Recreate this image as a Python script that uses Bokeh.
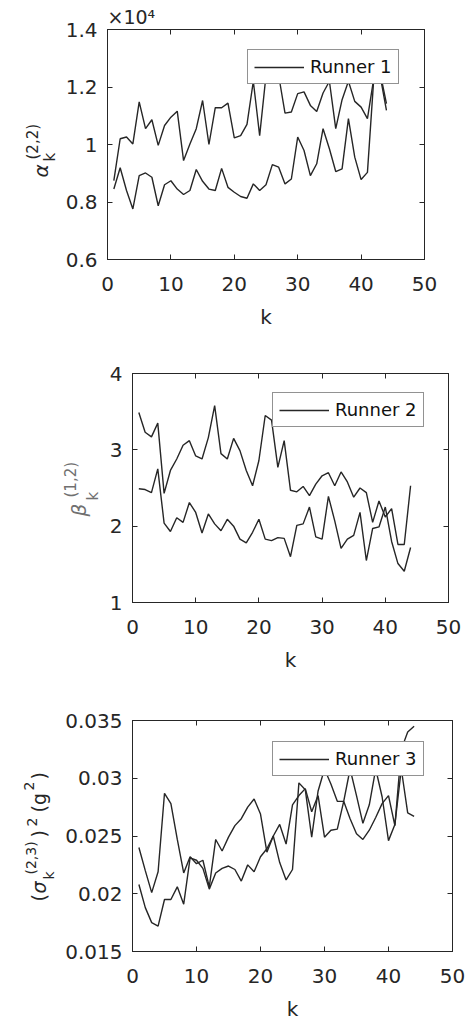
import math
from bokeh.plotting import figure
from bokeh.models import (Range1d, LinearAxis, FixedTicker, CustomJSTickFormatter,
                          Label, Legend, LegendItem, Title)
from bokeh.layouts import row
from bokeh.embed import file_html
from bokeh.resources import INLINE

# ---------------- data ----------------
k = list(range(1, 45))

alpha_a = [0.874, 1.020, 1.026, 1.002, 1.148, 1.055, 1.086, 0.997, 1.066, 1.095,
           1.116, 0.944, 1.002, 1.055, 1.153, 1.000, 1.128, 1.128, 1.144, 1.023,
           1.031, 1.070, 1.220, 1.031, 1.240, 1.260, 1.240, 1.109, 1.113, 1.177,
           1.183, 1.136, 1.115, 1.179, 1.220, 1.055, 1.156, 1.220, 1.150, 1.130,
           1.090, 1.230, 1.240, 1.119]
alpha_b = [0.845, 0.919, 0.840, 0.776, 0.892, 0.901, 0.886, 0.787, 0.860, 0.874,
           0.845, 0.826, 0.840, 0.913, 0.872, 0.845, 0.840, 0.917, 0.851, 0.834,
           0.819, 0.813, 0.863, 0.840, 0.860, 0.930, 0.921, 0.863, 0.880, 1.026,
           0.979, 0.892, 0.933, 1.055, 0.985, 0.906, 0.915, 1.090, 0.956, 0.878,
           0.903, 1.230, 1.250, 1.142]

beta_a = [3.49, 3.23, 3.17, 3.35, 2.43, 2.73, 2.88, 3.06, 3.12, 2.92,
          2.88, 3.16, 3.58, 2.95, 2.88, 3.15, 2.99, 2.73, 2.53, 2.86,
          3.45, 3.39, 2.77, 3.12, 2.47, 2.45, 2.52, 2.40, 2.55, 2.66,
          2.70, 2.53, 2.71, 2.58, 2.38, 2.50, 2.44, 2.05, 2.33, 2.12,
          2.23, 1.76, 1.76, 2.53]
beta_b = [2.49, 2.48, 2.44, 2.75, 2.04, 1.93, 2.11, 2.05, 2.31, 2.18,
          1.91, 2.16, 2.03, 1.94, 2.09, 2.00, 1.83, 1.78, 1.92, 2.09,
          1.83, 1.81, 1.85, 1.84, 1.60, 2.01, 2.03, 2.25, 1.86, 1.83,
          2.39, 2.07, 1.71, 1.83, 1.88, 2.18, 1.55, 1.97, 1.99, 2.25,
          1.80, 1.51, 1.41, 1.72]

sigma_a = [0.0240, 0.0220, 0.0201, 0.0219, 0.0287, 0.0278, 0.0247, 0.0218, 0.0232, 0.0226,
           0.0229, 0.0206, 0.0247, 0.0237, 0.0249, 0.0259, 0.0265, 0.0275, 0.0282, 0.0269,
           0.0236, 0.0250, 0.0260, 0.0243, 0.0277, 0.0285, 0.0291, 0.0271, 0.0285, 0.0249,
           0.0255, 0.0256, 0.0280, 0.0265, 0.0252, 0.0247, 0.0255, 0.0266, 0.0278, 0.0285,
           0.0259, 0.0325, 0.0340, 0.0345]
sigma_b = [0.0208, 0.0188, 0.0175, 0.0172, 0.0195, 0.0195, 0.0206, 0.0191, 0.0231, 0.0229,
           0.0222, 0.0204, 0.0218, 0.0222, 0.0224, 0.0221, 0.0211, 0.0225, 0.0219, 0.0232,
           0.0239, 0.0250, 0.0227, 0.0212, 0.0221, 0.0296, 0.0290, 0.0249, 0.0289, 0.0308,
           0.0295, 0.0280, 0.0280, 0.0308, 0.0285, 0.0261, 0.0277, 0.0308, 0.0284, 0.0246,
           0.0260, 0.0308, 0.0270, 0.0267]

x_ticks = [0, 10, 20, 30, 40, 50]
alpha_ticks = [0.6, 0.8, 1.0, 1.2, 1.4]
beta_ticks = [1, 2, 3, 4]
sigma_ticks = [0.015, 0.02, 0.025, 0.03, 0.035]
legend_labels = ["Runner 1", "Runner 2", "Runner 3"]
x_label = "k"
alpha_scale = "×10⁴"

# ---------------- style ----------------
AX = "#262626"
LINE = "#262626"
FONT = "DejaVu Sans"
FMT = CustomJSTickFormatter(code="return String(Number(tick.toFixed(4)));")
BLANK = CustomJSTickFormatter(code="return '';")


def style_axis(ax, ticks, labels=True, standoff=10):
    ax.ticker = FixedTicker(ticks=ticks)
    ax.axis_line_color = AX
    ax.major_tick_line_color = AX
    ax.minor_tick_line_color = None
    ax.major_tick_in = 5
    ax.major_tick_out = 0
    ax.major_label_text_font = FONT
    ax.major_label_text_font_size = "20px"
    ax.major_label_text_color = AX
    ax.major_label_standoff = standoff
    if not labels:
        ax.formatter = BLANK
        ax.major_label_text_font_size = "1px"
        ax.major_label_standoff = 0
    else:
        ax.formatter = FMT


def make_panel(ya, yb, yr, yticks, legend_label, left, right, fw, top, bottom, fh):
    p = figure(frame_width=fw, frame_height=fh,
               min_border_left=left, min_border_right=right,
               min_border_top=top, min_border_bottom=bottom,
               x_range=Range1d(0, 50), y_range=Range1d(*yr),
               output_backend="svg", toolbar_location=None,
               background_fill_color="white", border_fill_color="white")
    p.grid.visible = False
    p.outline_line_color = AX
    style_axis(p.xaxis[0], x_ticks, standoff=17)
    style_axis(p.yaxis[0], yticks, standoff=10)
    p.xaxis[0].axis_label = x_label
    p.xaxis[0].axis_label_text_font = FONT
    p.xaxis[0].axis_label_text_font_size = "20px"
    p.xaxis[0].axis_label_text_font_style = "normal"
    p.xaxis[0].axis_label_text_color = AX
    p.xaxis[0].axis_label_standoff = 11
    top_ax = LinearAxis()
    style_axis(top_ax, x_ticks, labels=False)
    p.add_layout(top_ax, "above")
    right_ax = LinearAxis()
    style_axis(right_ax, yticks, labels=False)
    p.add_layout(right_ax, "right")

    r1 = p.line(k, ya, line_color=LINE, line_width=1.4)
    p.line(k, yb, line_color=LINE, line_width=1.4)

    leg = Legend(items=[LegendItem(label=legend_label, renderers=[r1])],
                 location=(140, 175), margin=0, padding=6, spacing=0,
                 glyph_width=50, glyph_height=20, label_height=20,
                 label_standoff=6,
                 label_text_font=FONT, label_text_font_size="18px",
                 label_text_color="#111111",
                 border_line_color=AX, border_line_width=1,
                 background_fill_color="white", background_fill_alpha=1.0)
    p.add_layout(leg)
    return p


def label_fig(width, fh, top, bottom, frame_top, pieces, color):
    """Narrow figure holding the rotated y-axis title pieces.
    pieces: (text, x_page, y_page_start, size, italic)"""
    lf = figure(frame_width=width, frame_height=fh,
                min_border_left=0, min_border_right=0,
                min_border_top=top, min_border_bottom=bottom,
                x_range=Range1d(0, width), y_range=Range1d(0, fh),
                x_axis_type=None, y_axis_type=None,
                output_backend="svg", toolbar_location=None,
                background_fill_color="white", border_fill_color="white")
    lf.grid.visible = False
    lf.outline_line_color = None
    frame_bottom = frame_top + fh
    for text, xw, yw, size, italic in pieces:
        lf.add_layout(Label(x=xw, y=frame_bottom - yw, text=text,
                            angle=math.pi / 2, text_align="left", text_baseline="middle",
                            text_font=FONT, text_font_size=f"{size}px",
                            text_font_style="italic" if italic else "normal",
                            text_color=color))
    return lf


# ---------------- panel 1 ----------------
p1 = make_panel(alpha_a, alpha_b, (0.6, 1.4), alpha_ticks, legend_labels[0],
                47, 45, 317, 29, 79, 230)
p1.add_layout(Title(text=alpha_scale, align="left", offset=0, standoff=3,
                    text_font=FONT, text_font_size="19px", text_font_style="normal",
                    text_color=AX), "above")
l1 = label_fig(60, 230, 29, 79, 29,
               [("α", 40, 177, 20, True),
                ("k", 49, 161, 15, False),
                ("(2,2)", 32, 159, 15, False)], AX)

# ---------------- panel 2 ----------------
GRAY = "#707070"
p2 = make_panel(beta_a, beta_b, (1, 4), beta_ticks, legend_labels[1],
                32, 21, 316, 35, 86, 229)
o2 = 338
l2 = label_fig(100, 229, 35, 86, 373 - o2,
               [("β", 78, 516 - o2, 20, True),
                ("k", 92, 500 - o2, 15, False),
                ("(1,2)", 70, 497 - o2, 15, False)], GRAY)

# ---------------- panel 3 ----------------
p3 = make_panel(sigma_a, sigma_b, (0.015, 0.035), sigma_ticks, legend_labels[2],
                72, 17, 320, 32, 75, 231)
o3 = 688
l3 = label_fig(60, 231, 32, 75, 720 - o3,
               [("(", 38, 901 - o3, 19, False),
                ("σ", 38, 893 - o3, 19, True),
                ("k", 48, 879 - o3, 14, False),
                ("(2,3)", 30, 874 - o3, 14, False),
                (")", 38, 837 - o3, 19, False),
                ("2", 31, 826 - o3, 14, False),
                ("(g", 38, 812 - o3, 19, False),
                ("2", 28, 790 - o3, 14, False),
                (")", 38, 779 - o3, 19, False)], AX)

open("out.html", "w").write(file_html([row(l1, p1), row(l2, p2), row(l3, p3)], INLINE))
